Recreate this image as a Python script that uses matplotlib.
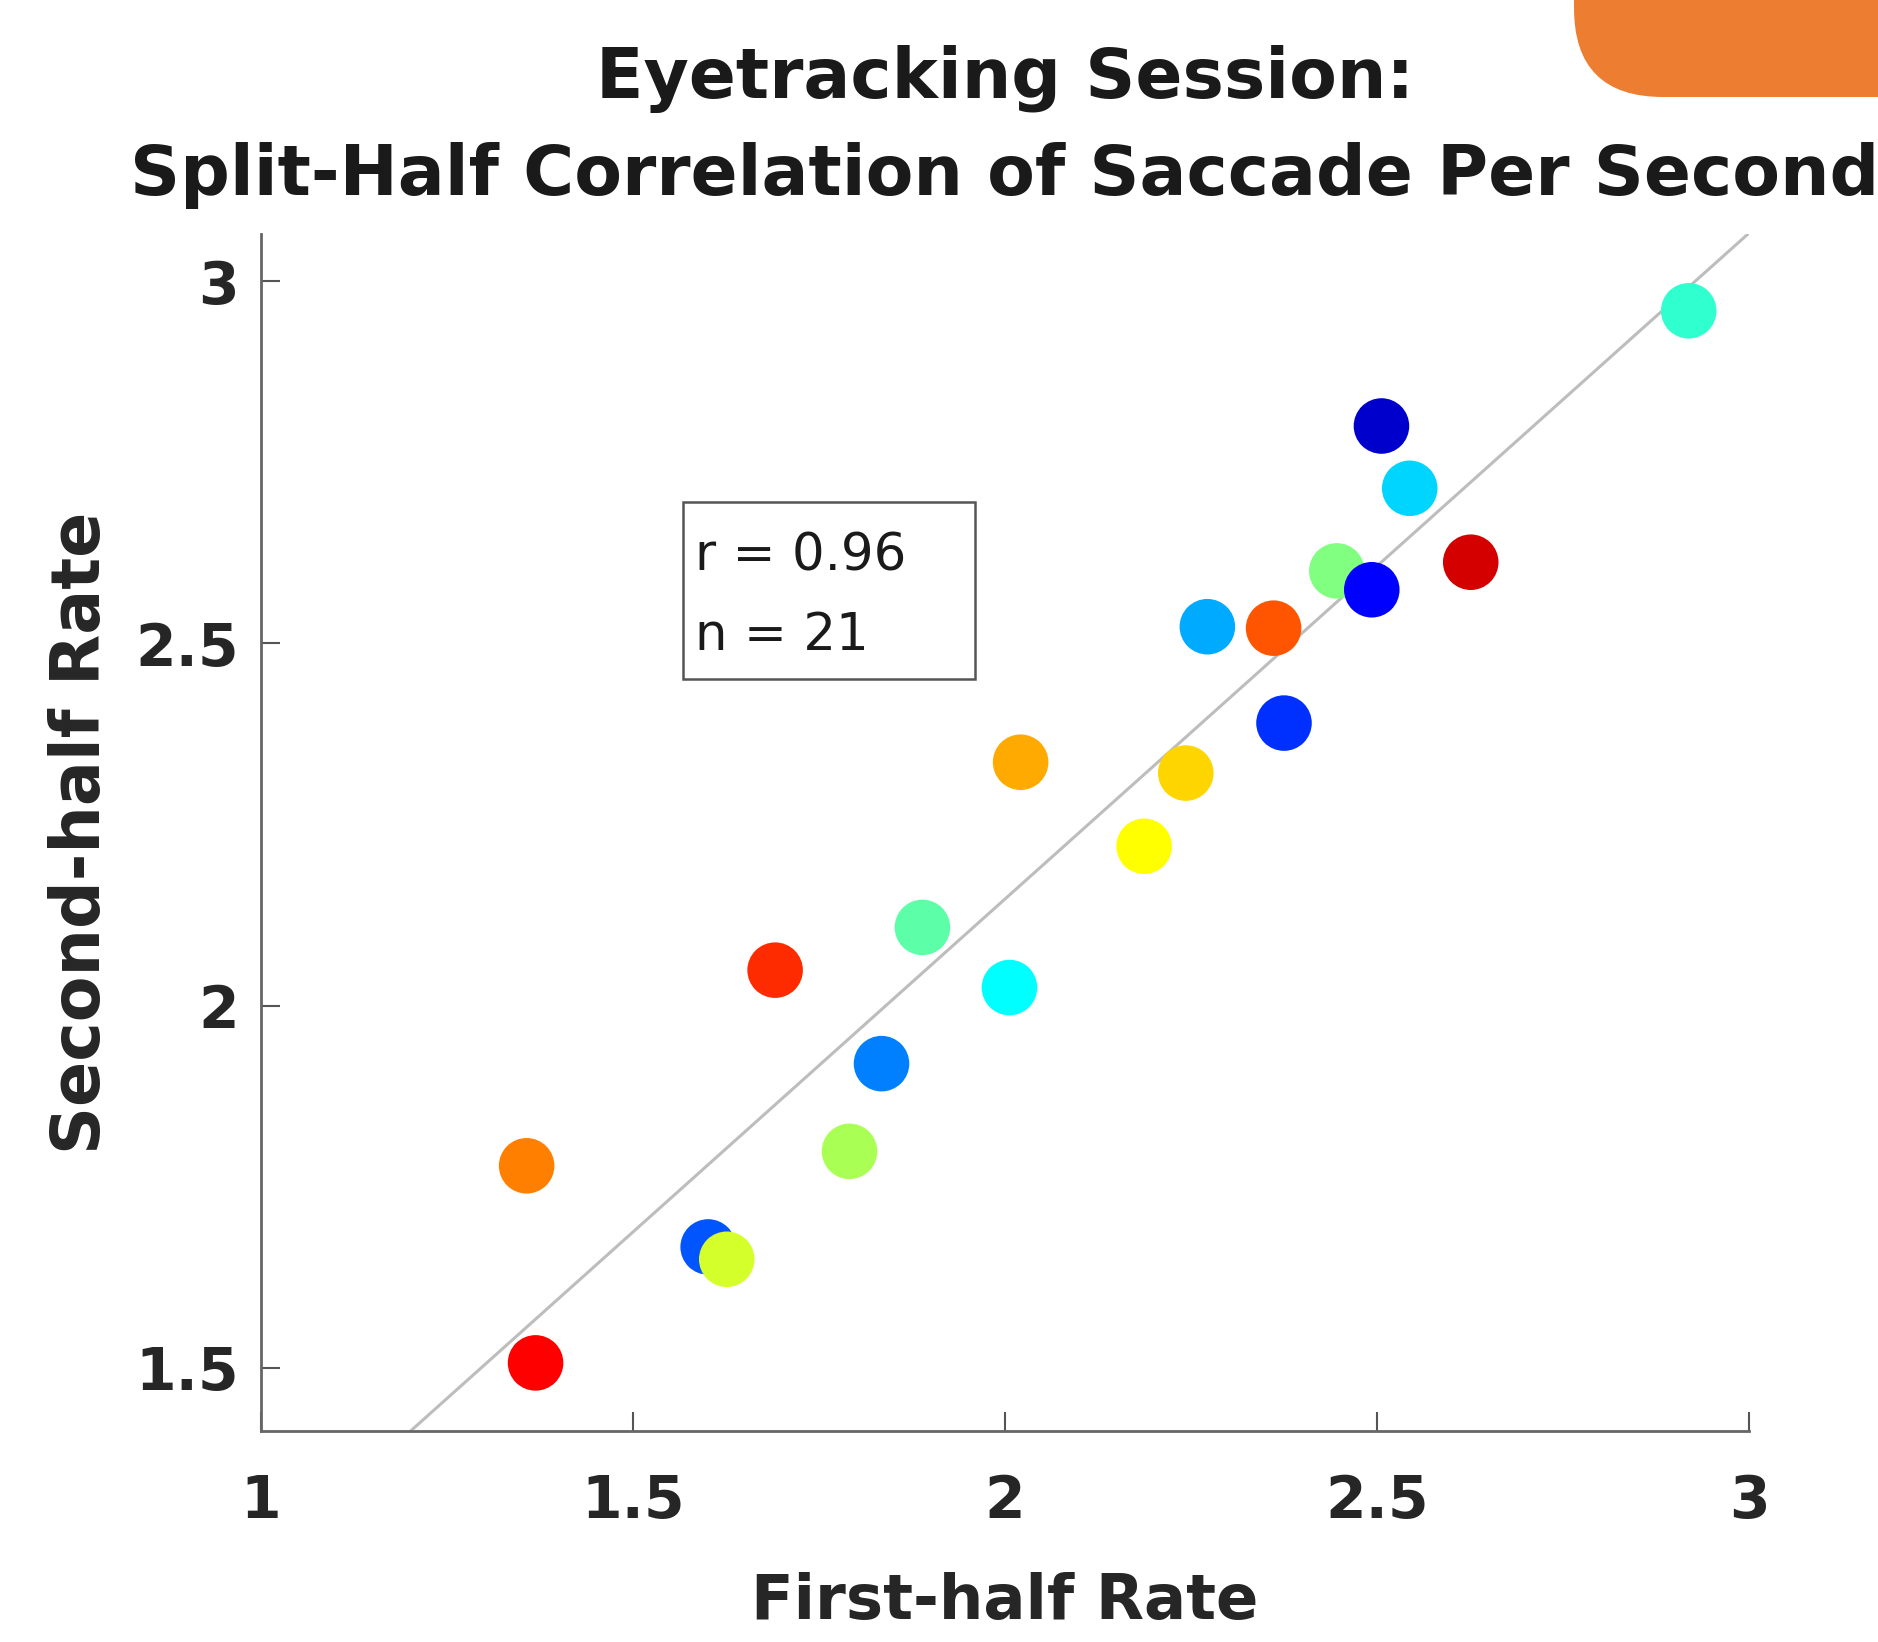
import numpy as np
import matplotlib
matplotlib.use("Agg")
import matplotlib.pyplot as plt
from matplotlib.patches import FancyBboxPatch, Rectangle

# split-half saccade rates, one point per participant
first_half = [2.919, 2.506, 2.544, 2.626, 2.446, 2.493, 2.272, 2.361, 2.375, 2.021, 2.243,
              2.187, 1.889, 1.691, 2.006, 1.834, 1.791, 1.357, 1.601, 1.626, 1.369]
second_half = [2.959, 2.800, 2.714, 2.612, 2.600, 2.574, 2.523, 2.521, 2.390, 2.336, 2.321,
               2.220, 2.108, 2.049, 2.025, 1.920, 1.799, 1.779, 1.667, 1.650, 1.507]
point_colors = ["#30FFD0", "#0000CC", "#00D5FF", "#D40000", "#80FF80", "#0000FF", "#00AAFF",
                "#FF5500", "#0030FF", "#FFAA00", "#FFD500", "#FFFF00", "#5CFFA8", "#FF2B00",
                "#00FFFF", "#0080FF", "#AAFF55", "#FF8000", "#0055FF", "#D5FF2B", "#FF0000"]
r_value = 0.96

title_lines = ["Eyetracking Session:", "Split-Half Correlation of Saccade Per Second"]
ticks = [1, 1.5, 2, 2.5, 3]
tick_labels = ["1", "1.5", "2", "2.5", "3"]
ytick_vals = [1.5, 2, 2.5, 3]
ytick_labels = ["1.5", "2", "2.5", "3"]


def make_plot():
    x = np.array(first_half)
    y = np.array(second_half)

    fig = plt.figure(figsize=(18.78, 16.42), dpi=100)
    ax = fig.add_axes([0.139, 0.1285, 0.7923, 0.729])

    # least-squares line, like lsline
    slope, intercept = np.polyfit(x, y, 1)
    xs = np.array([1.0, 3.0])
    ax.plot(xs, slope * xs + intercept, color="#bdbdbd", lw=2.2, zorder=1)

    ax.scatter(x, y, s=1600, c=point_colors, edgecolors="none", zorder=2)

    ax.set_xlim(1, 3)
    ax.set_ylim(1.413, 3.065)
    ax.set_xticks(ticks)
    ax.set_xticklabels(tick_labels)
    ax.set_yticks(ytick_vals)
    ax.set_yticklabels(ytick_labels)

    for side in ["top", "right"]:
        ax.spines[side].set_visible(False)
    for side in ["left", "bottom"]:
        ax.spines[side].set_color("#666666")
        ax.spines[side].set_linewidth(2)

    ax.tick_params(axis="both", direction="in", length=14, width=1.5, color="#555555",
                   labelsize=42, labelcolor="#262626")
    ax.tick_params(axis="x", pad=30)
    ax.tick_params(axis="y", pad=16)
    for lab in ax.get_xticklabels() + ax.get_yticklabels():
        lab.set_fontweight("bold")

    ax.set_xlabel("First-half Rate", fontsize=45, fontweight="bold", color="#262626")
    ax.set_ylabel("Second-half Rate", fontsize=48, fontweight="bold", color="#262626")
    ax.xaxis.set_label_coords(0.5, -0.118)
    ax.yaxis.set_label_coords(-0.099, 0.5)

    # stats box
    ax.add_patch(Rectangle((0.2836, 0.6282), 0.1962, 0.1479, transform=ax.transAxes,
                           fill=False, edgecolor="#555555", lw=1.8, zorder=3))
    ax.text(0.2917, 0.7305, "r = %.2f" % r_value, transform=ax.transAxes, fontsize=37,
            ha="left", va="center", color="#1a1a1a")
    ax.text(0.2917, 0.6638, "n = %d" % len(x), transform=ax.transAxes, fontsize=37,
            ha="left", va="center", color="#1a1a1a")

    fig.text(0.535, 0.952, title_lines[0], fontsize=50, fontweight="bold",
             ha="center", va="center", color="#1a1a1a")
    fig.text(0.535, 0.893, title_lines[1], fontsize=50, fontweight="bold",
             ha="center", va="center", color="#1a1a1a")

    # orange slide decoration in the top-right corner
    fig.patches.append(FancyBboxPatch((15.74, 15.45), 4.0, 2.0,
                                      boxstyle="round,pad=0,rounding_size=0.89",
                                      transform=fig.dpi_scale_trans, facecolor="#ED7D31",
                                      edgecolor="none", zorder=0))

    fig.savefig("out.png", dpi=100)


if __name__ == "__main__":
    make_plot()
